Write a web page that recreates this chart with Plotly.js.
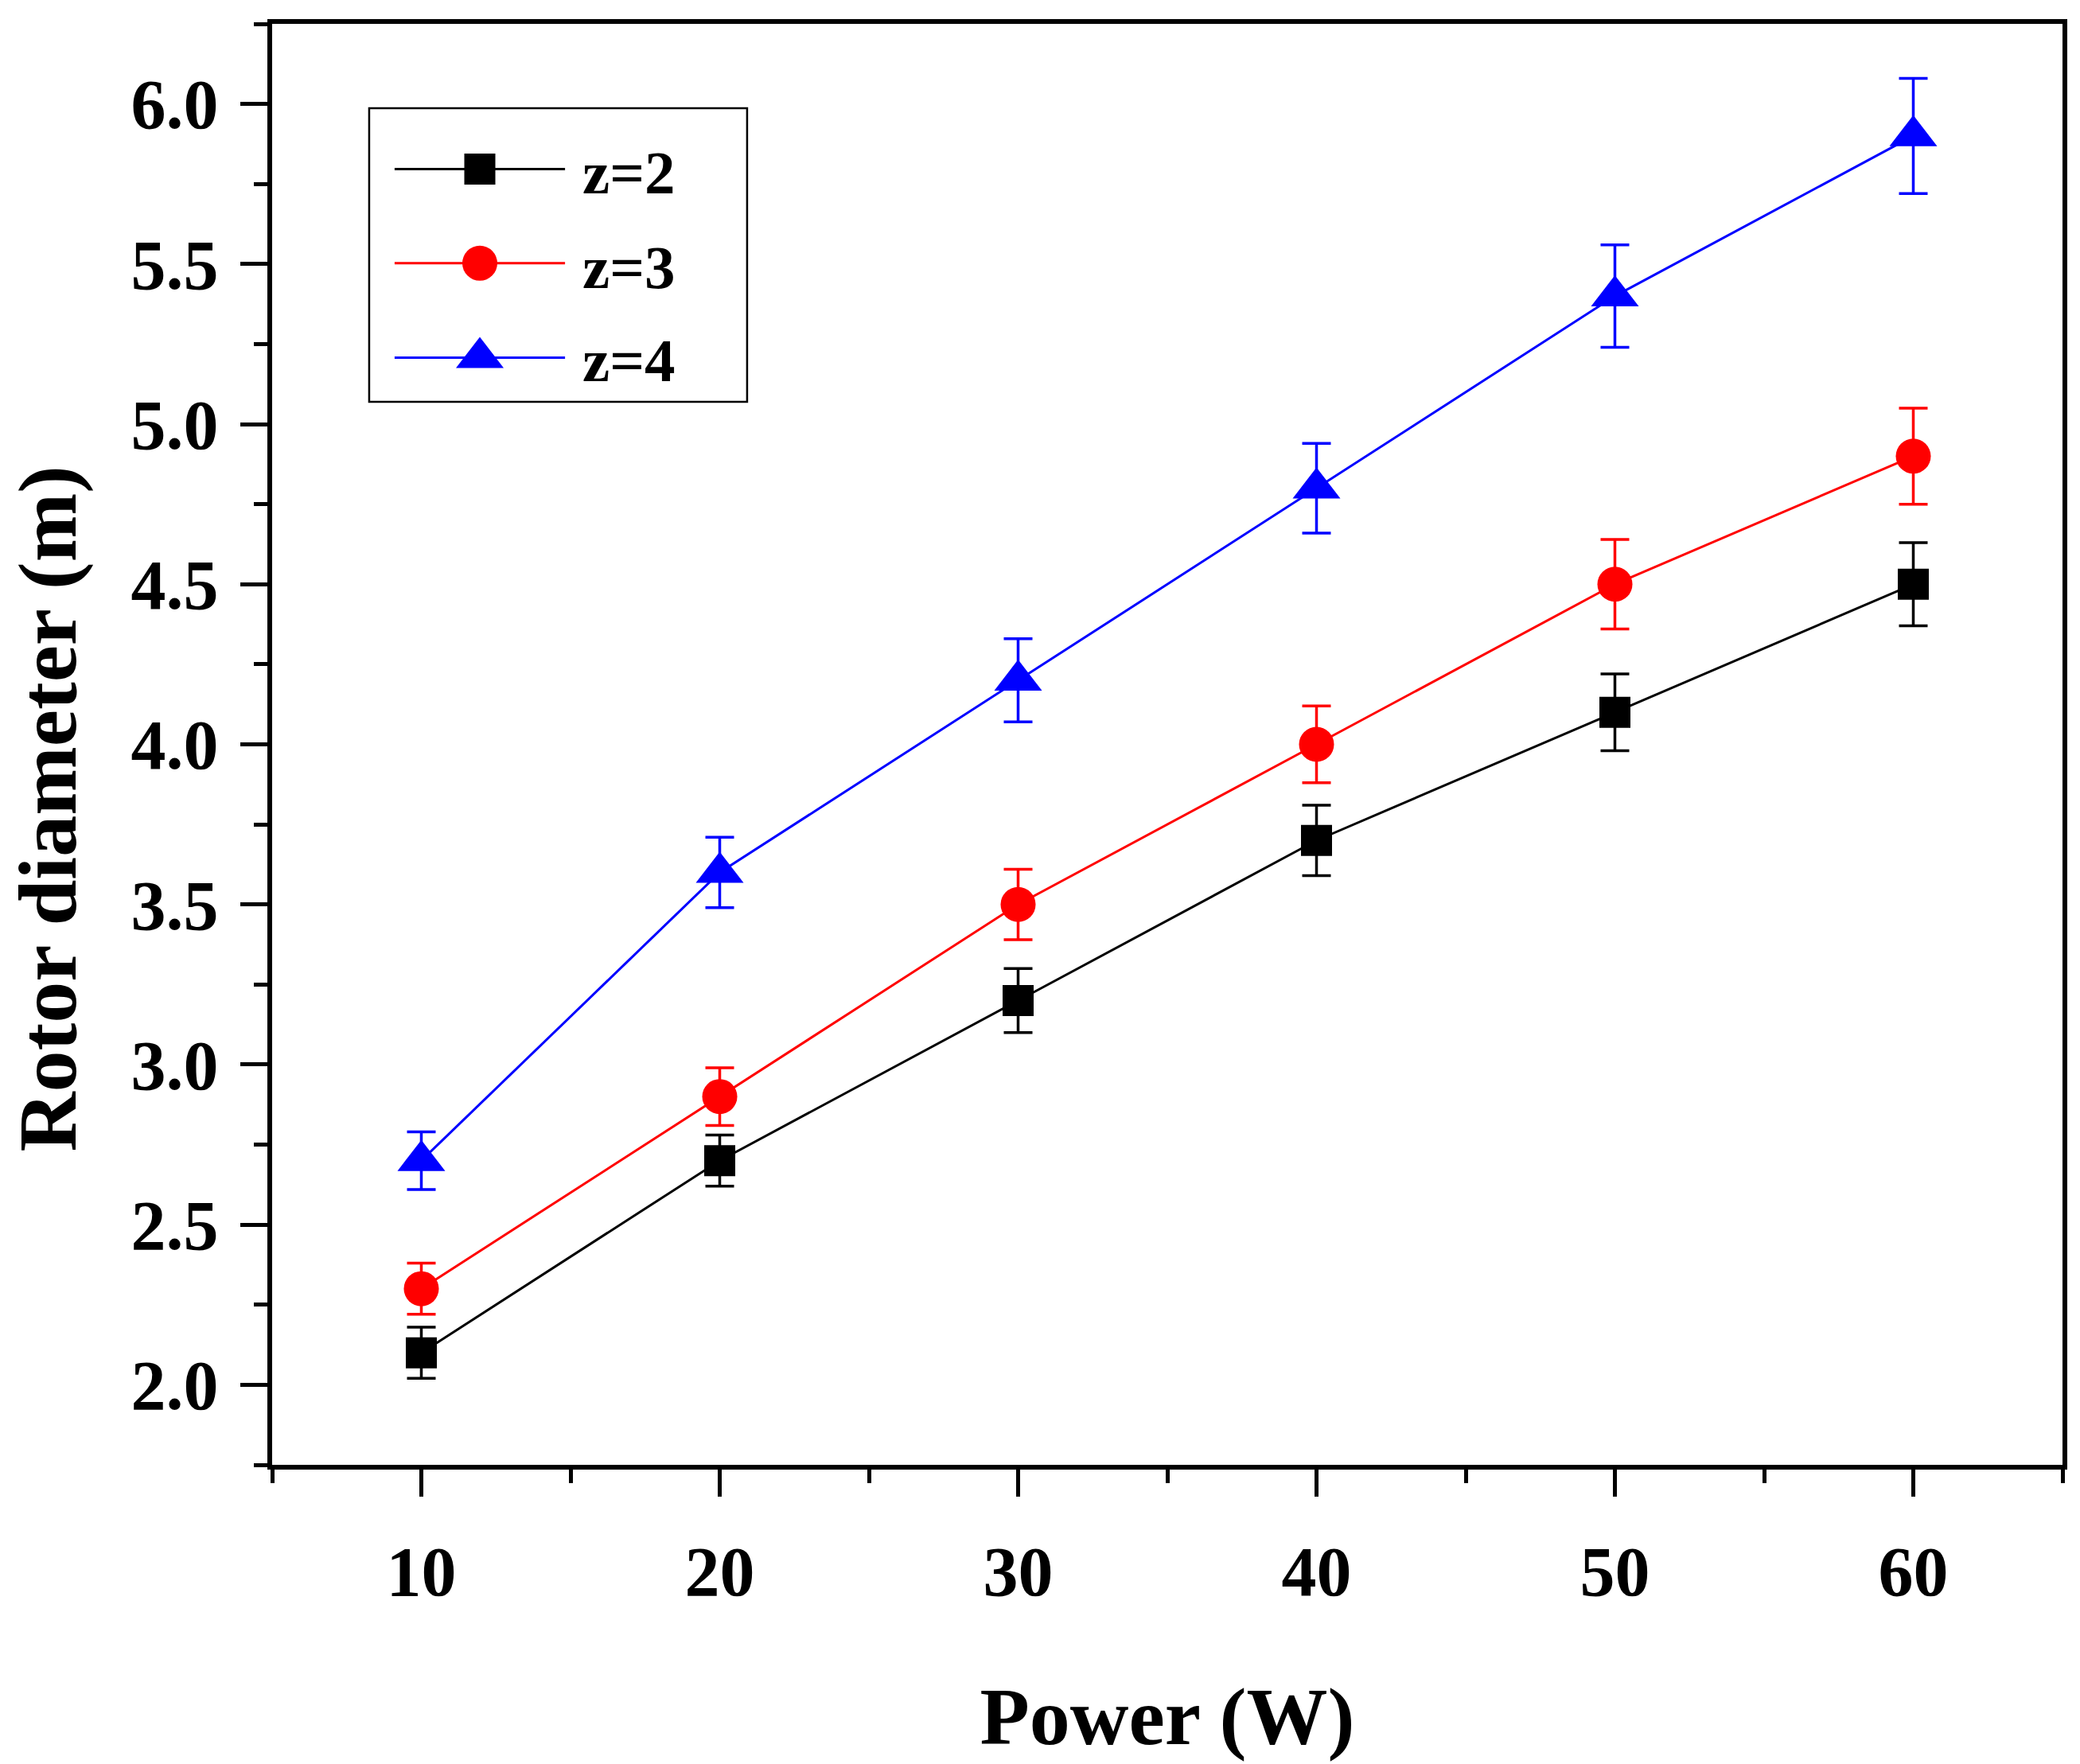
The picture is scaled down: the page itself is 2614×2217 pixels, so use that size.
<!DOCTYPE html>
<html><head><meta charset="utf-8">
<script src="https://cdn.plot.ly/plotly-3.0.1.min.js"></script>
<style>html,body{margin:0;padding:0;background:#fff}#chart{width:2614px;height:2217px}</style>
</head><body><div id="chart"></div>
<script>
// ---- data ----
const power = [10, 20, 30, 40, 50, 60];
const seriesNames = ['z=2', 'z=3', 'z=4'];
const diamZ2 = [2.1, 2.7, 3.2, 3.7, 4.1, 4.5];
const errZ2  = [0.08, 0.08, 0.10, 0.11, 0.12, 0.13];
const diamZ3 = [2.3, 2.9, 3.5, 4.0, 4.5, 4.9];
const errZ3  = [0.08, 0.09, 0.11, 0.12, 0.14, 0.15];
const diamZ4 = [2.7, 3.6, 4.2, 4.8, 5.4, 5.9];
const errZ4  = [0.09, 0.11, 0.13, 0.14, 0.16, 0.18];
const xTickVals = [10, 20, 30, 40, 50, 60];
const yTickVals = [2.0, 2.5, 3.0, 3.5, 4.0, 4.5, 5.0, 5.5, 6.0];
const xTitle = 'Power (W)';
const yTitle = 'Rotor diameter (m)';

// ---- styles ----
const FONT = 'Liberation Serif, Times New Roman, serif';
const colors = ['#000000', '#ff0000', '#0000ff'];
const symbols = ['square', 'circle', 'triangle-up'];
const sizes = [39, 44, 52];
const allY = [diamZ2, diamZ3, diamZ4];
const allErr = [errZ2, errZ3, errZ4];

const traces = [];
for (let i = 0; i < 3; i++) {
  traces.push({
    type: 'scatter', mode: 'lines+markers', name: seriesNames[i],
    x: power, y: allY[i],
    line: {color: colors[i], width: 3},
    marker: {symbol: symbols[i], size: sizes[i], color: colors[i], opacity: 1, line: {width: 0}},
    error_y: {type: 'data', array: allErr[i], visible: true, color: colors[i], thickness: 3.5, width: 18},
    showlegend: false
  });
}

// ---- hand-drawn legend (paper fractions of plot area) ----
const legX0 = 0.0684, legXm = 0.116, legX1 = 0.1636;
const legY = [0.8992, 0.8339, 0.7684];
const legTextY = [0.8967, 0.8310, 0.7666];
for (let i = 0; i < 3; i++) {
  traces.push({
    type: 'scatter', mode: 'lines+markers', xaxis: 'x2', yaxis: 'y2',
    x: [legX0, legXm, legX1], y: [legY[i], legY[i], legY[i]],
    line: {color: colors[i], width: 3},
    marker: {symbol: symbols[i], size: [0, sizes[i], 0], color: colors[i], opacity: 1, line: {width: 0}},
    showlegend: false, hoverinfo: 'skip'
  });
}
const annotations = seriesNames.map((n, i) => ({
  xref: 'paper', yref: 'paper', x: 0.1724, y: legTextY[i],
  xanchor: 'left', yanchor: 'middle', showarrow: false, text: n,
  font: {family: FONT, size: 77, color: '#000', weight: 'bold'}
}));
// y-axis title (placed as in the original figure, slightly below centre)
annotations.push({
  xref: 'paper', yref: 'paper', x: -0.1253, y: 0.4553,
  xanchor: 'center', yanchor: 'middle', showarrow: false, textangle: -90, text: yTitle,
  font: {family: FONT, size: 104, color: '#000', weight: 'bold'}
});

const axisCommon = {
  showline: true, linewidth: 6, linecolor: '#000', mirror: true,
  showgrid: false, zeroline: false,
  ticks: 'outside', ticklen: 34, tickwidth: 5, tickcolor: '#000',
  tickfont: {family: FONT, size: 88, color: '#000', weight: 'bold'}
};

const layout = {
  width: 2614, height: 2217,
  margin: {l: 342, r: 22, t: 30, b: 376},
  paper_bgcolor: '#fff', plot_bgcolor: '#fff',
  showlegend: false,
  xaxis: Object.assign({}, axisCommon, {
    range: [5, 65], tickvals: xTickVals, ticklabelstandoff: 18,
    minor: {ticks: 'outside', ticklen: 17, tickwidth: 5, tickcolor: '#000', dtick: 5, tick0: 0},
    title: {text: xTitle, standoff: 100, font: {family: FONT, size: 102, color: '#000', weight: 'bold'}}
  }),
  yaxis: Object.assign({}, axisCommon, {
    range: [1.75, 6.25], tickvals: yTickVals, tickformat: '.1f', ticklabelstandoff: 10,
    minor: {ticks: 'outside', ticklen: 17, tickwidth: 5, tickcolor: '#000', dtick: 0.25, tick0: 0}
  }),
  xaxis2: {domain: [0, 1], range: [0, 1], visible: false, anchor: 'y2', overlaying: 'x', fixedrange: true},
  yaxis2: {domain: [0, 1], range: [0, 1], visible: false, anchor: 'x2', overlaying: 'y', fixedrange: true},
  shapes: [{type: 'rect', xref: 'paper', yref: 'paper', x0: 0.0542, x1: 0.2653, y0: 0.7377, y1: 0.9415,
            line: {color: '#000', width: 2.5}, fillcolor: 'rgba(0,0,0,0)'}],
  annotations: annotations
};

Plotly.newPlot('chart', traces, layout, {staticPlot: true, displayModeBar: false});
</script>
</body></html>
